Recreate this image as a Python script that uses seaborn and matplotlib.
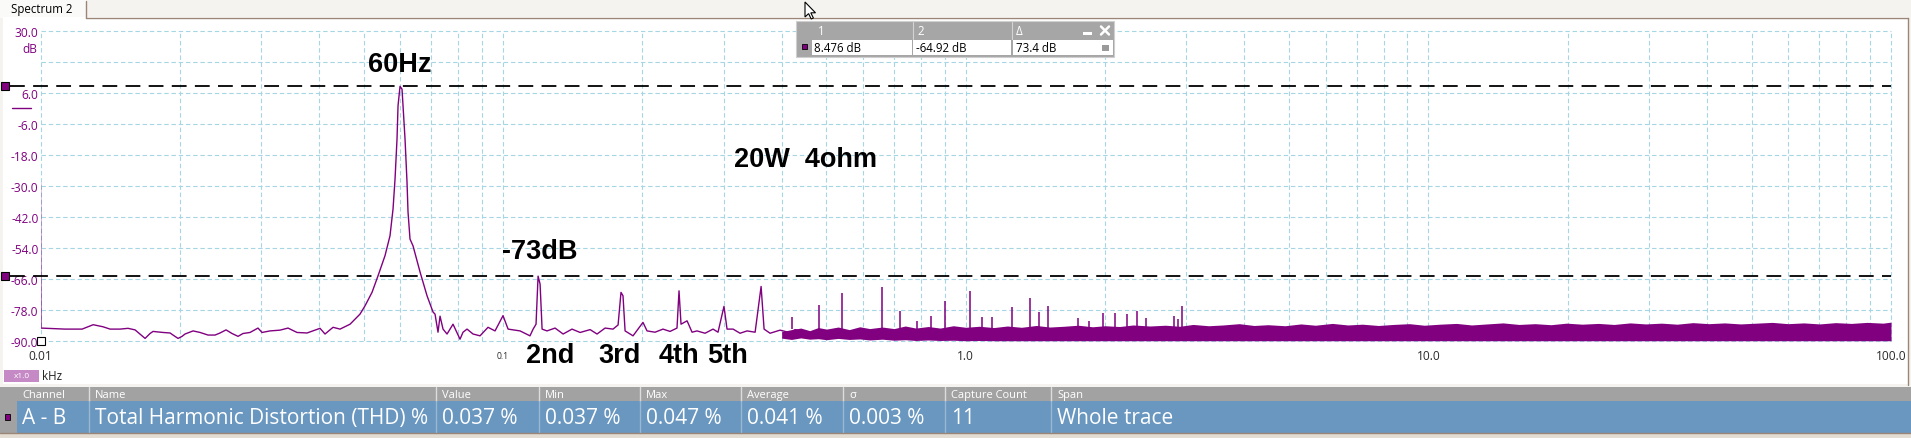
import matplotlib
matplotlib.use("Agg")
import matplotlib.pyplot as plt
from matplotlib import ticker
from matplotlib.patches import Rectangle, Polygon
import seaborn as sns

# ---- values (kHz / dB) ----
trace_khz = [0.0100, 0.01002, 0.0113, 0.0123, 0.0130, 0.01365, 0.01414, 0.01486, 0.01546, 0.01601,
             0.01683, 0.01725, 0.01751, 0.0184, 0.01906, 0.01934, 0.01983, 0.02023, 0.02053, 0.02137,
             0.02213, 0.02302, 0.02384, 0.02444, 0.02518, 0.02594, 0.02673, 0.0274, 0.02837, 0.02952,
             0.03012, 0.03134, 0.03294, 0.03428, 0.03585, 0.03768, 0.0402, 0.04121, 0.04289, 0.04441,
             0.04668, 0.04905, 0.05029, 0.05207, 0.05365, 0.05555, 0.05695, 0.05781, 0.05839, 0.05897,
             0.05927, 0.05986, 0.06046, 0.06076, 0.06137, 0.06198, 0.06229, 0.06291, 0.06386, 0.06613,
             0.06847, 0.07055, 0.07125, 0.07232, 0.07305, 0.07415, 0.07564, 0.07793, 0.08069, 0.08191,
             0.08356, 0.08609, 0.08914, 0.09276, 0.09605, 0.09995, 0.1025, 0.1088, 0.1143, 0.1161,
             0.1178, 0.1190, 0.1202, 0.1214, 0.1244, 0.1295, 0.1348, 0.1409, 0.1467, 0.1542,
             0.1596, 0.1661, 0.1728, 0.1772, 0.1798, 0.1816, 0.1835, 0.1909, 0.2006, 0.2047,
             0.2130, 0.2216, 0.2295, 0.2376, 0.2400, 0.2424, 0.2498, 0.2561, 0.2625, 0.2732,
             0.2843, 0.2914, 0.3002, 0.3048, 0.3141, 0.3252, 0.3367, 0.3505, 0.3611, 0.3665,
             0.3776, 0.3969, 0.4171, 0.4276, 0.4495]
trace_db = [-29.0, -85.0, -85.4, -85.4, -83.7, -84.5, -85.4, -85.4, -85.1, -85.7,
            -89.0, -87.1, -86.3, -86.7, -86.9, -87.7, -89.0, -88.2, -87.3, -86.1,
            -86.7, -87.7, -87.7, -86.9, -85.7, -87.1, -88.2, -87.1, -86.7, -85.0,
            -86.7, -86.1, -85.8, -85.0, -86.7, -86.9, -85.1, -87.3, -84.7, -85.4,
            -83.5, -79.6, -76.4, -71.2, -64.8, -57.0, -49.3, -39.0, -27.4, -11.9,
            1.0, 8.476, 7.4, 1.0, -11.9, -28.6, -40.1, -50.6, -53.2, -63.3,
            -72.5, -78.8, -79.6, -86.6, -80.4, -85.4, -87.3, -83.5, -89.3, -86.6,
            -85.4, -87.3, -88.0, -84.7, -86.1, -80.2, -85.4, -86.1, -88.0, -85.4,
            -83.5, -64.92, -68.0, -85.4, -86.1, -85.0, -87.3, -85.4, -86.7, -85.6,
            -87.3, -85.0, -85.4, -83.8, -71.2, -72.5, -86.1, -88.0, -82.8, -86.1,
            -86.6, -85.4, -86.3, -85.0, -70.6, -83.5, -82.2, -86.6, -86.1, -87.0,
            -85.4, -86.6, -76.6, -85.4, -85.4, -87.0, -86.1, -86.6, -68.9, -85.4,
            -87.0, -85.8, -86.8, -85.6, -86.4]

# dense noise floor above ~0.4 kHz: upper / lower edge of the band
band_khz = [0.40, 0.42, 0.44, 0.46, 0.48, 0.50, 0.53, 0.56, 0.59, 0.62,
            0.66, 0.70, 0.74, 0.78, 0.83, 0.88, 0.94, 1.0, 1.07, 1.15,
            1.23, 1.32, 1.42, 1.52, 1.63, 1.75, 1.88, 2.0, 2.15, 2.3,
            2.5, 2.7, 2.9, 3.1, 3.35, 3.6, 3.9, 4.2, 4.5, 4.9,
            5.3, 5.7, 6.2, 6.7, 7.2, 7.8, 8.4, 9.1, 9.8, 10.6,
            11.5, 12.4, 13.4, 14.5, 15.7, 17.0, 18.4, 19.9, 21.5, 23.3,
            25.2, 27.3, 29.5, 31.9, 34.5, 37.3, 40.4, 43.7, 47.3, 51.2,
            55.4, 59.9, 64.8, 70.1, 75.9, 82.1, 88.8, 96.1, 100.0]
band_top_db = [-86.4, -85.6, -85.0, -86.0, -84.8, -85.4, -84.6, -85.6, -84.5, -85.2,
               -84.6, -85.2, -84.2, -85.0, -84.4, -85.0, -84.1, -84.7, -84.3, -84.8,
               -84.2, -84.7, -84.0, -84.6, -84.3, -83.9, -84.5, -84.1, -84.4, -83.8,
               -84.2, -83.9, -84.3, -83.6, -84.1, -83.8, -83.3, -84.0, -83.7, -84.1,
               -83.4, -83.9, -83.2, -83.8, -83.5, -84.0, -83.6, -83.3, -83.9, -83.5,
               -83.2, -83.8, -83.4, -83.0, -83.6, -83.3, -83.7, -83.1, -83.5, -83.2,
               -83.6, -83.0, -83.4, -83.1, -83.5, -82.9, -83.3, -83.0, -83.4, -83.1,
               -82.8, -83.3, -83.0, -83.4, -82.9, -83.2, -82.8, -83.1, -82.7]
band_floor_db = [-88.9, -89.4, -88.8, -89.3, -89.1, -89.5, -89.0, -89.4, -89.2, -89.6,
                 -89.3, -89.7, -89.5, -89.8, -89.6, -89.8, -89.7, -89.9, -89.8, -89.9,
                 -89.9, -89.9, -89.9, -89.9, -89.9, -89.9, -89.9, -89.9, -89.9, -89.9,
                 -89.9, -89.9, -89.9, -89.9, -89.9, -89.9, -89.9, -89.9, -89.9, -89.9,
                 -89.9, -89.9, -89.9, -89.9, -89.9, -89.9, -89.9, -89.9, -89.9, -89.9,
                 -89.9, -89.9, -89.9, -89.9, -89.9, -89.9, -89.9, -89.9, -89.9, -89.9,
                 -89.9, -89.9, -89.9, -89.9, -89.9, -89.9, -89.9, -89.9, -89.9, -89.9,
                 -89.9, -89.9, -89.9, -89.9, -89.9, -89.9, -89.9, -89.9, -89.9]

# harmonic spikes sticking out of the band
spike_khz = [0.421, 0.482, 0.540, 0.659, 0.721, 0.785, 0.841, 0.902, 1.022, 1.085,
             1.140, 1.259, 1.377, 1.440, 1.506, 1.750, 1.848, 1.981, 2.103, 2.233,
             2.347, 2.454, 2.820, 2.876, 2.934]
spike_db = [-80.9, -76.1, -71.5, -69.3, -78.3, -82.2, -80.2, -74.7, -70.6, -80.8,
            -80.8, -77.0, -73.5, -78.7, -76.3, -81.2, -82.2, -79.3, -79.3, -79.7,
            -78.5, -81.2, -80.2, -81.5, -76.5]

cursor_db = [8.476, -64.92]
cursor_delta = 73.4

grid_db = [-90, -78, -66, -54, -42, -30, -18, -6, 6, 18, 30]
ytick_labels = ['-90.0', '-78.0', '-66.0', '-54.0', '-42.0', '-30.0', '-18.0', '-6.0', '6.0', '', '30.0']
xtick_khz = [0.01, 0.1, 1, 10, 100]
xtick_labels = ['0.01', '0.1', '1.0', '10.0', '100.0']

meas_headers = ['Channel', 'Name', 'Value', 'Min', 'Max', 'Average', 'σ', 'Capture Count', 'Span']
meas_row = ['A - B', 'Total Harmonic Distortion (THD) %', '0.037 %', '0.037 %', '0.047 %',
            '0.041 %', '0.003 %', '11', 'Whole trace']

# ---- styling ----
sns.set_style('white')
plt.rcParams['font.family'] = ['Open Sans', 'DejaVu Sans']

W, H = 1911, 439
PURPLE = '#800080'
GRID = '#a6d6e3'
BROWN = '#9b8576'

fig = plt.figure(figsize=(W / 100, H / 100), dpi=100, facecolor='#f4f3ef')

# background UI (pixel coords, y down)
bg = fig.add_axes([0, 0, 1, 1], zorder=0)
bg.set_xlim(0, W)
bg.set_ylim(H, 0)
bg.axis('off')


def rect(a, x, y, w, h, fc, ec='none', lw=0, z=1):
    a.add_patch(Rectangle((x, y), w, h, fc=fc, ec=ec, lw=lw, zorder=z))


rect(bg, 0, 0, 86, 19, '#fafaf9')
bg.plot([86, 86], [2, 18.5], color=BROWN, lw=1)
bg.text(11, 10, 'Spectrum 2', fontsize=8.3, va='center', color='black')
rect(bg, 3, 18, 1905, 367, 'white')
bg.plot([86, 1908], [18.5, 18.5], color=BROWN, lw=1)
bg.plot([1908, 1908], [18.5, 386], color=BROWN, lw=1)

rect(bg, 4, 371, 35, 12, '#c58ac5')
bg.text(21.5, 377, 'x1.0', fontsize=6, color='white', ha='center', va='center')
bg.text(42, 377, 'kHz', fontsize=8.3, color='#222222', va='center')

# measurements table
col_x = [0, 89, 436, 539, 640, 741, 843, 945, 1051]
rect(bg, 0, 388, W, 14, '#a2a2a2')
rect(bg, 0, 402, 17, 32, '#a2a2a2')
rect(bg, 17, 402, W - 17, 32, '#6997c0')
rect(bg, 5, 415, 5, 6, PURPLE, ec='black', lw=0.6, z=2)
for cx in col_x[1:]:
    bg.plot([cx, cx], [388, 402], color='#dcdcdc', lw=1)
    bg.plot([cx, cx], [402, 434], color='#9ab8d4', lw=1)
for i, (hd, val) in enumerate(zip(meas_headers, meas_row)):
    x0 = col_x[i] + (22 if i == 0 else 6)
    bg.text(x0, 395.5, hd, fontsize=8, color='white', va='center')
    bg.text(x0, 418.5, val, fontsize=15, color='white', va='center')
rect(bg, 0, 434, W, 5, '#e4ddd3')
bg.plot([0, W], [434.5, 434.5], color=BROWN, lw=1)

# ---- spectrum axes ----
ax = fig.add_axes([40.5 / W, 1 - 342 / H, 1850.5 / W, 310.3 / H], zorder=1)
ax.set_xscale('log')
ax.set_xlim(0.01, 100)
ax.set_ylim(-90, 30)

ax.fill_between(band_khz, band_floor_db, band_top_db, color=PURPLE, lw=0, zorder=3)
ax.vlines(spike_khz, -85.5, spike_db, color=PURPLE, lw=1.1, zorder=3)
sns.lineplot(x=trace_khz, y=trace_db, ax=ax, color=PURPLE, lw=1.0,
             estimator=None, sort=False, zorder=4)

ax.set_xticks(xtick_khz, labels=xtick_labels)
ax.xaxis.set_minor_locator(ticker.LogLocator(base=10, subs=[2, 3, 4, 5, 6, 7, 8, 9], numticks=50))
ax.xaxis.set_minor_formatter(ticker.NullFormatter())
ax.set_yticks(grid_db, labels=ytick_labels)
ax.grid(True, which='both', axis='x', color=GRID, lw=0.8, ls=(0, (4, 2.5)))
ax.grid(True, which='major', axis='y', color=GRID, lw=0.8, ls=(0, (4, 2.5)))
for gl in ax.get_xgridlines() + ax.get_ygridlines():
    gl.set_clip_on(False)
ax.set_axisbelow(True)
for s in ax.spines.values():
    s.set_visible(False)
ax.tick_params(axis='both', which='both', length=0)
ax.tick_params(axis='y', pad=1.5, labelsize=8.6, labelcolor=PURPLE)
ax.tick_params(axis='x', pad=10.8, labelsize=8.6, labelcolor='#2a2a2a')
plt.setp(ax.get_xticklabels(), va='center')
ax.get_xticklabels()[1].set_fontsize(6.2)
ax.set_xlabel('')
ax.set_ylabel('')

ytr = ax.get_yaxis_transform()
ax.text(-0.0019, 23, 'dB', transform=ytr, ha='right', va='center', fontsize=8.6, color=PURPLE)

# cursor rulers + markers on the left
for lvl in cursor_db:
    ax.plot([-0.0165, 1.0], [lvl, lvl], transform=ytr, clip_on=False, color='black',
            lw=1.3, ls=(0, (8.2, 4.6)), zorder=5)
    ax.plot([-0.0194], [lvl], transform=ytr, clip_on=False, marker='s', ms=6,
            mfc=PURPLE, mec='black', mew=0.8, zorder=6)
ax.plot([-0.0154, -0.0051], [0, 0], transform=ytr, clip_on=False, color=PURPLE, lw=1)
ax.plot([0.01], [-90], marker='s', ms=6, mfc='white', mec='black', mew=0.8,
        clip_on=False, zorder=6)

ann = dict(family=['Liberation Sans', 'DejaVu Sans'], weight='bold', fontsize=19.5,
           color='black', ha='center', va='baseline', clip_on=False, zorder=7)
ax.text(0.0599, 14.5, '60Hz', **ann)
ax.text(0.4494, -22.5, '20W  4ohm', **ann)
ax.text(0.1202, -58.0, '-73dB', **ann)
ax.text(0.1263, -98.2, '2nd', **ann)
ax.text(0.1789, -98.2, '3rd', **ann)
ax.text(0.2400, -98.2, '4th', **ann)
ax.text(0.3048, -98.2, '5th', **ann)

# ---- cursor readout box + mouse pointer ----
ov = fig.add_axes([0, 0, 1, 1], zorder=3)
ov.set_xlim(0, W)
ov.set_ylim(H, 0)
ov.axis('off')
rect(ov, 796, 22, 318, 36, '#a6a6a6', ec='#cfcfcf', lw=0.8)
rect(ov, 812, 41, 100, 15, 'white')
rect(ov, 913, 41, 98, 15, 'white')
rect(ov, 1013, 41, 100, 15, 'white')
for cx in [912.5, 1012]:
    ov.plot([cx, cx], [23, 40], color='#d4d4d4', lw=0.8)
rect(ov, 802, 45, 5, 5, PURPLE, ec='black', lw=0.6, z=2)
for x0, lab in [(818, '1'), (917, '2'), (1016, 'Δ')]:
    ov.text(x0, 31.5, lab, fontsize=8.3, color='white', va='center')
readout = [f'{cursor_db[0]:.3f} dB', f'{cursor_db[1]:.2f} dB', f'{cursor_delta:.1f} dB']
for x0, lab in zip([814, 916, 1016], readout):
    ov.text(x0, 48.5, lab, fontsize=8.3, color='black', va='center')
rect(ov, 1083, 33, 9, 3, 'white', z=2)
ov.plot([1101, 1109], [27.5, 35.5], color='white', lw=1.8)
ov.plot([1101, 1109], [35.5, 27.5], color='white', lw=1.8)
rect(ov, 1102, 46, 7, 6, '#9a9a9a', z=2)
ov.add_patch(Polygon([(805, 3), (805, 18), (808.6, 14.6), (811.2, 20), (813.4, 19),
                      (810.8, 13.8), (815.5, 13.8)], closed=True, fc='white', ec='black',
                     lw=0.8, zorder=5))

fig.savefig('out.png', dpi=100)
